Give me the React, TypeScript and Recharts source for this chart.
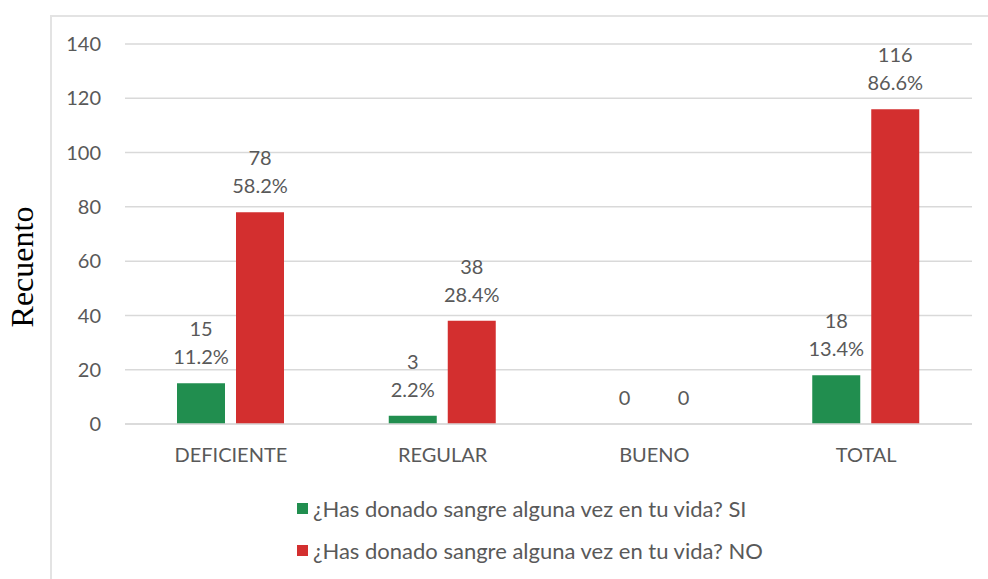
import React from 'react';
import { BarChart, Bar, XAxis, YAxis, CartesianGrid, Legend, LabelList, Label } from 'recharts';

const categories = ['DEFICIENTE', 'REGULAR', 'BUENO', 'TOTAL'];
const siValues = [15, 3, 0, 18];
const noValues = [78, 38, 0, 116];
const siPct = ['11.2%', '2.2%', '', '13.4%'];
const noPct = ['58.2%', '28.4%', '', '86.6%'];
const yTicks = [0, 20, 40, 60, 80, 100, 120, 140];
const siName = '¿Has donado sangre alguna vez en tu vida? SI';
const noName = '¿Has donado sangre alguna vez en tu vida? NO';

const GREEN = '#218E4F';
const RED = '#D32F2F';
const TEXT = '#595959';
const FONT = 'Lato, "Noto Sans", sans-serif';
const FS = 20;

const data = categories.map((c, i) => ({
  cat: c,
  si: siValues[i],
  no: noValues[i],
  siLbl: `${siValues[i]}|${siPct[i]}`,
  noLbl: `${noValues[i]}|${noPct[i]}`,
}));

const labelContent = (props: any) => {
  const { x, y, width, value } = props;
  const cx = Number(x) + Number(width) / 2;
  const top = Number(y);
  const [v, pct] = String(value).split('|');
  if (!pct) {
    return (
      <text x={cx} y={top - 27} textAnchor="middle" dominantBaseline="central" fill={TEXT} fontSize={FS} fontFamily={FONT}>
        {v}
      </text>
    );
  }
  return (
    <g>
      <text x={cx} y={top - 55} textAnchor="middle" dominantBaseline="central" fill={TEXT} fontSize={FS} fontFamily={FONT}>
        {v}
      </text>
      <text x={cx} y={top - 27} textAnchor="middle" dominantBaseline="central" fill={TEXT} fontSize={FS} fontFamily={FONT}>
        {pct}
      </text>
    </g>
  );
};

const LegendContent = () => (
  <div style={{ fontFamily: FONT, fontSize: 22, color: TEXT }}>
    {[{ c: GREEN, n: siName }, { c: RED, n: noName }].map((it) => (
      <div key={it.n} style={{ display: 'flex', alignItems: 'center', height: 42 }}>
        <span style={{ display: 'inline-block', width: 11, height: 11, background: it.c, marginRight: 5 }} />
        <span>{it.n}</span>
      </div>
    ))}
  </div>
);

export default function App() {
  return (
    <div style={{ position: 'absolute', left: 0, top: 0, width: 988, height: 579, background: '#fff' }}>
      <div style={{ position: 'absolute', left: 50, top: 15, width: 938, height: 564, borderTop: '2px solid #e3e3e3', borderLeft: '2px solid #e3e3e3' }} />
      <BarChart
        width={988}
        height={579}
        data={data}
        margin={{ top: 44, right: 16, left: 50, bottom: 41 }}
        barGap={11}
        barSize={48}
        style={{ position: 'absolute', left: 0, top: 0 }}
      >
        <CartesianGrid vertical={false} stroke="#d9d9d9" strokeWidth={1.5} />
        <XAxis
          dataKey="cat"
          axisLine={{ stroke: '#d9d9d9', strokeWidth: 1.5 }}
          tickLine={false}
          tickSize={0}
          tickMargin={24}
          height={30}
          tick={{ fill: TEXT, fontSize: FS, fontFamily: FONT }}
        />
        <YAxis
          width={75}
          domain={[0, 140]}
          ticks={yTicks}
          axisLine={false}
          tickLine={false}
          tickSize={0}
          tickMargin={24}
          tick={{ fill: TEXT, fontSize: FS, fontFamily: FONT }}
        >
          <Label
            content={() => (
              <text
                x={0}
                y={0}
                transform="translate(33 267) rotate(-90)"
                textAnchor="middle"
                fill="#000"
                fontSize={32}
                fontFamily='"Liberation Serif", "DejaVu Serif", serif'
              >
                Recuento
              </text>
            )}
          />
        </YAxis>
        <Legend
          content={<LegendContent />}
          wrapperStyle={{ position: 'absolute', left: 297, top: 487, width: 600 }}
        />
        <Bar dataKey="si" name={siName} fill={GREEN} minPointSize={0.01} isAnimationActive={false}>
          <LabelList dataKey="siLbl" content={labelContent} />
        </Bar>
        <Bar dataKey="no" name={noName} fill={RED} minPointSize={0.01} isAnimationActive={false}>
          <LabelList dataKey="noLbl" content={labelContent} />
        </Bar>
      </BarChart>
    </div>
  );
}
